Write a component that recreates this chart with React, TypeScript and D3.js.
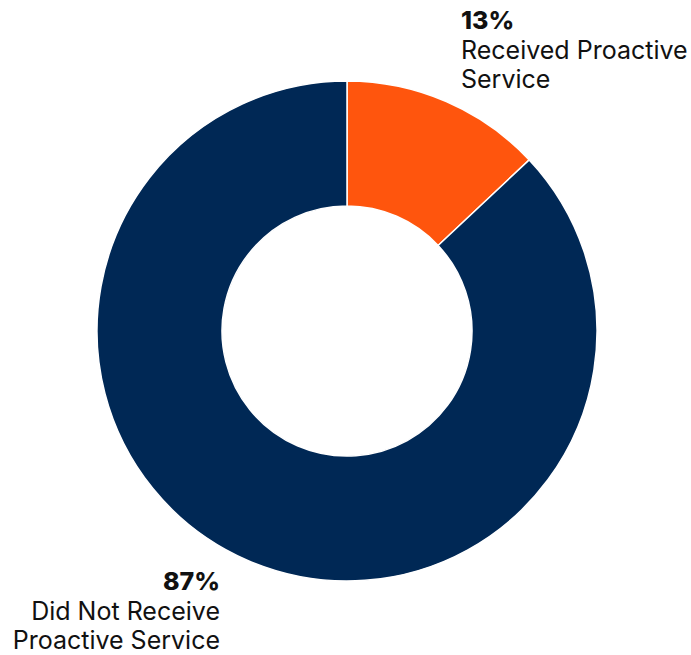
import React from 'react'
import * as d3 from 'd3'

const categories = ['Received Proactive Service', 'Did Not Receive Proactive Service']
const shares = [13, 87]
const colors = ['#FF550D', '#002855']
const labelLines = [
  ['Received Proactive', 'Service'],
  ['Did Not Receive', 'Proactive Service']
]

const W = 691
const H = 655
const cx = 347
const cy = 331
const outerR = 250
const innerR = 125

const App = () => {
  const pie = d3.pie<number>().sort(null).value((d) => d)
  const arcs = pie(shares)
  const arc = d3.arc<d3.PieArcDatum<number>>().innerRadius(innerR).outerRadius(outerR)

  // label anchors: top-right for the small slice, bottom-left for the big one
  const labels = [
    { x: 461, y: 29, anchor: 'start' },
    { x: 220, y: 590, anchor: 'end' }
  ]

  return (
    <svg width={W} height={H} style={{ position: 'absolute', left: 0, top: 0 }}
      fontFamily="Inter, 'Noto Sans', sans-serif">
      <rect width={W} height={H} fill="#fff" />
      <g transform={`translate(${cx},${cy})`}>
        {arcs.map((a, i) => (
          <path key={categories[i]} d={arc(a) || ''} fill={colors[i]} stroke="#fff" strokeWidth={1.5} />
        ))}
      </g>
      {labels.map((l, i) => (
        <text key={i} x={l.x} y={l.y} textAnchor={l.anchor as any} fill="#111" fontSize={25}>
          <tspan x={l.x} fontWeight={800}>{shares[i]}%</tspan>
          {labelLines[i].map((t, j) => (
            <tspan key={j} x={l.x} dy={29.5}>{t}</tspan>
          ))}
        </text>
      ))}
    </svg>
  )
}

export default App
